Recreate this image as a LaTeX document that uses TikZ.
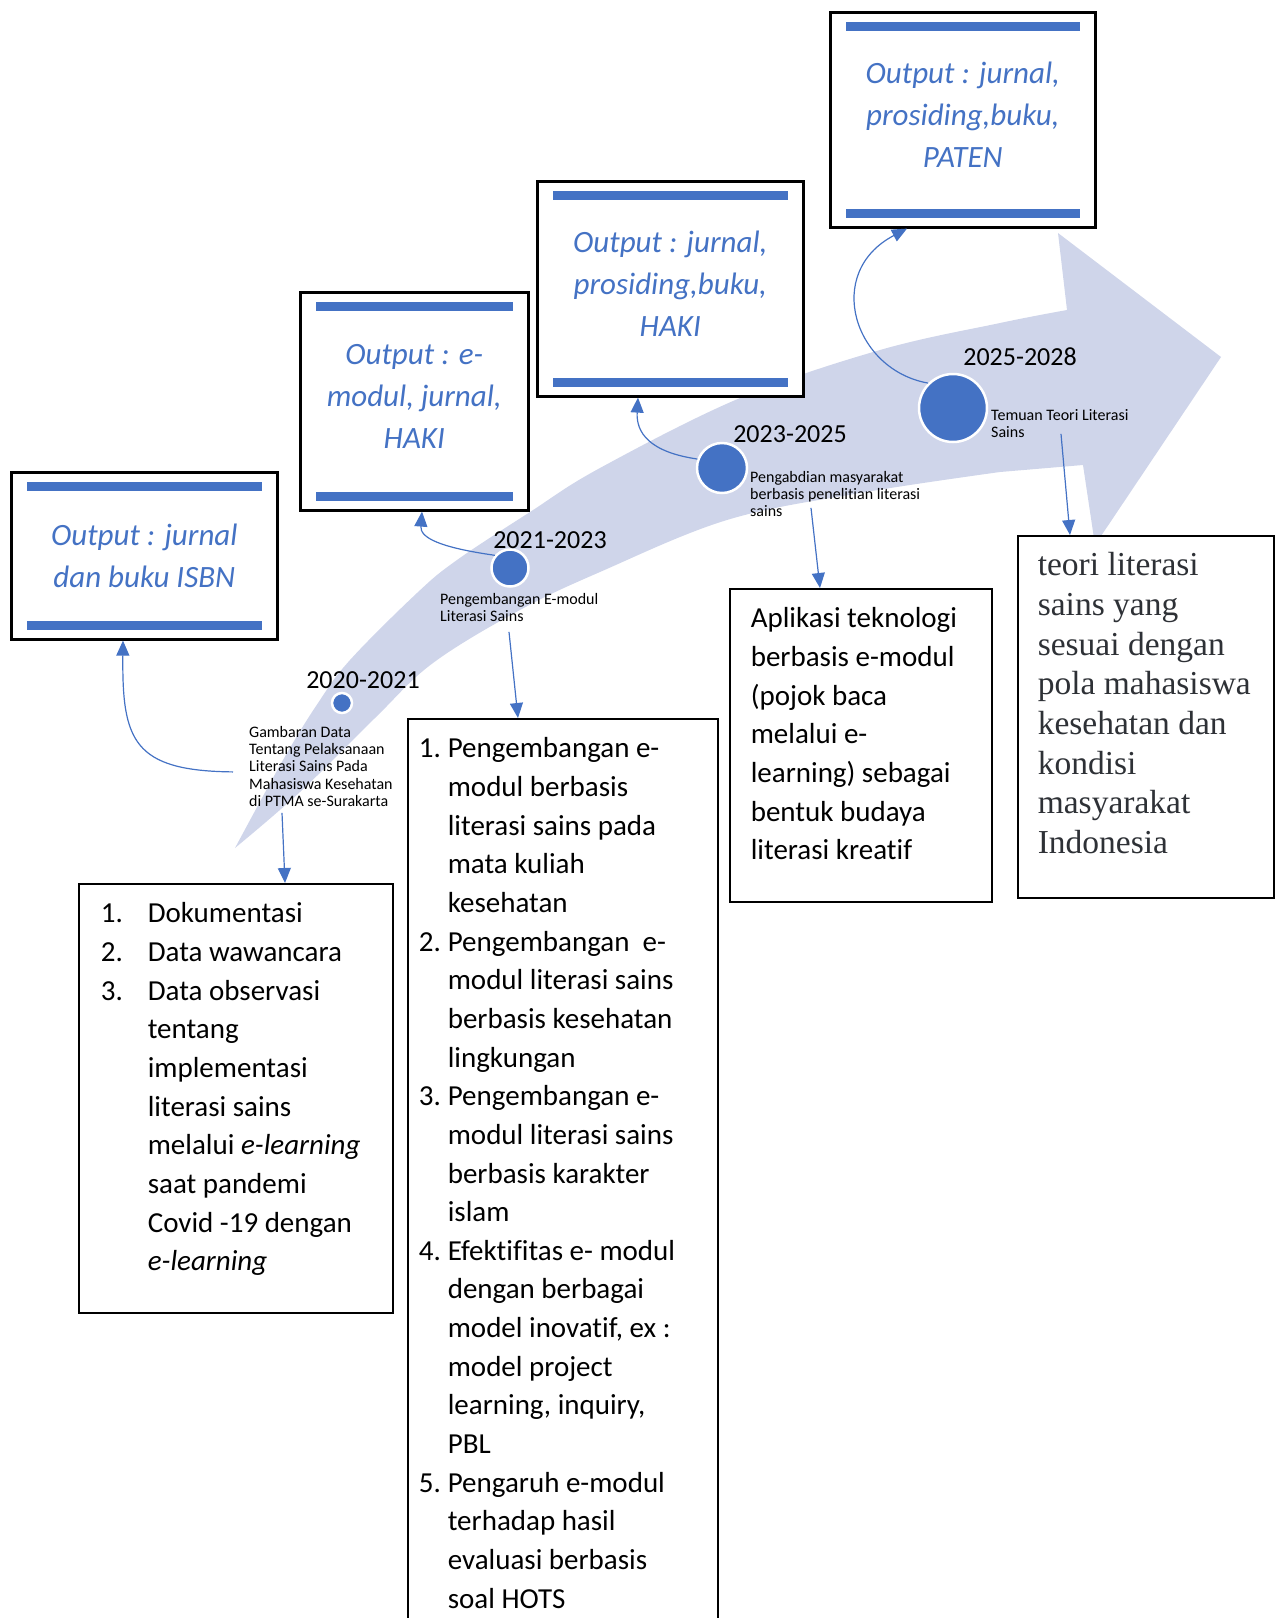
\documentclass[tikz,border=0pt]{standalone}
\usepackage{fontspec}
\setmainfont{Carlito}[Ligatures={TeX,NoCommon}]
\newfontfamily\timesfont{Liberation Serif}
\usetikzlibrary{arrows.meta}
\definecolor{myblue}{HTML}{4472C4}
\definecolor{bandblue}{HTML}{CFD5EA}
\definecolor{txtgray}{HTML}{2E3136}
\newcommand{\numitem}[3]{\par\noindent\hangindent=#1\hangafter=1\strut\makebox[#1][l]{#2}#3\par}
\newcommand{\boxtext}[4]{\hspace*{#1}\begin{minipage}[t][#2][t]{#3}\raggedright #4\end{minipage}}
\newcommand{\lift}{\rule[-10pt]{0pt}{0pt}}
\begin{document}
\begin{tikzpicture}[x=1pt,y=-1pt,
	outbox/.style={draw,line width=2.6pt,fill=white,anchor=north west,inner sep=0pt,
		align=center,text=myblue,font=\fontsize{31}{42}\selectfont\itshape},
	bar/.style={myblue,line width=9pt},
	listbox/.style={draw,line width=1.6pt,fill=white,anchor=north west,
		inner xsep=0pt,inner ysep=12pt,font=\fontsize{29}{38.65}\selectfont},
	dot/.style={circle,fill=myblue,draw=white,line width=2.5pt,inner sep=0pt},
	yr/.style={anchor=base,font=\fontsize{26}{30}\selectfont},
	lab/.style={anchor=north west,inner sep=0pt,align=left,font=\fontsize{16}{17.3}\selectfont},
	link/.style={myblue,line width=1.2pt,-{Triangle[length=15pt,width=13pt]}}]
	\useasboundingbox (0,0) rectangle (1275,1618);
	% big curved arrow
	\fill[bandblue] plot[smooth,tension=.6] coordinates {(235,848) (283,760) (318,703)
		(350,660) (417,593) (457,560) (530,512) (600,468) (740,398) (880,350) (1000,323) (1067,310)}
	-- (1058,233) -- (1221,357) -- (1095,545) -- (1083,465)
	-- plot[smooth,tension=.6] coordinates {(1000,472) (860,493) (727,520) (600,572)
		(520,610) (433,663) (375,718) (300,792) (235,848)} -- cycle;
	% milestones
	\node[dot,minimum size=20pt] (c1) at (342,703) {};
	\node[dot,minimum size=37pt] (c2) at (510,568) {};
	\node[dot,minimum size=50pt] (c3) at (722,468) {};
	\node[dot,minimum size=68pt] (c4) at (953,408) {};
	\node[yr] (y1) at (363,688) {2020-2021};
	\node[yr] (y2) at (550,548) {2021-2023};
	\node[yr] (y3) at (790,442) {2023-2025};
	\node[yr] (y4) at (1020,365) {2025-2028};
	\node[lab] (lgam) at (249,724.9) {\strut Gambaran Data\\Tentang Pelaksanaan\\Literasi Sains Pada\\Mahasiswa Kesehatan\\di PTMA se-Surakarta};
	\node[lab] (lpeng) at (440,591.9) {\strut Pengembangan E-modul\\Literasi Sains};
	\node[lab] (lpgb) at (750,469.9) {\strut Pengabdian masyarakat\\berbasis penelitian literasi\\sains};
	\node[lab] (ltem) at (991,407.9) {\strut Temuan Teori Literasi\\Sains};
	% outputs
	\node[outbox,minimum width=266pt,minimum height=167pt] (o1) at (10,471) {Output : jurnal\\dan buku ISBN};
	\node[outbox,minimum width=228pt,minimum height=218pt] (o2) at (299,291) {Output : e-\\modul, jurnal,\\HAKI\lift};
	\node[outbox,minimum width=266pt,minimum height=215pt] (o3) at (536,180) {Output : jurnal,\\prosiding,buku,\\HAKI\lift};
	\node[outbox,minimum width=265pt,minimum height=215pt] (o4) at (829,11) {Output : jurnal,\\prosiding,buku,\\PATEN\lift};
	\foreach \o in {o1,o2,o3,o4}{
		\draw[bar] ([xshift=17pt,yshift=-15.5pt]\o.north west) -- ([xshift=-17pt,yshift=-15.5pt]\o.north east);
		\draw[bar] ([xshift=17pt,yshift=15.5pt]\o.south west) -- ([xshift=-17pt,yshift=15.5pt]\o.south east);
	}
	% details
	\node[listbox] (boxA) at (78,883) {\boxtext{22pt}{405pt}{292pt}{%
			\numitem{47pt}{1.}{Dokumentasi}
			\numitem{47pt}{2.}{Data wawancara}
			\numitem{47pt}{3.}{Data observasi\newline tentang\newline implementasi\newline literasi sains\newline melalui \textit{e-learning}\newline saat pandemi\newline Covid -19 dengan\newline \textit{e-learning}}}};
	\node[listbox] (boxB) at (407,718) {\boxtext{11pt}{908pt}{299pt}{%
			\numitem{29pt}{1.}{Pengembangan e-\newline modul berbasis\newline literasi sains pada\newline mata kuliah\newline kesehatan}
			\numitem{29pt}{2.}{Pengembangan\ \ e-\newline modul literasi sains\newline berbasis kesehatan\newline lingkungan}
			\numitem{29pt}{3.}{Pengembangan e-\newline modul literasi sains\newline berbasis karakter\newline islam}
			\numitem{29pt}{4.}{Efektifitas e- modul\newline dengan berbagai\newline model inovatif, ex :\newline model project\newline learning, inquiry,\newline PBL}
			\numitem{29pt}{5.}{Pengaruh e-modul\newline terhadap hasil\newline evaluasi berbasis\newline soal HOTS}}};
	\node[listbox] (boxC) at (729,588) {\boxtext{21pt}{289pt}{241pt}{\strut Aplikasi teknologi\\berbasis e-modul\\(pojok baca\\melalui e-\\learning) sebagai\\bentuk budaya\\literasi kreatif}};
	\node[listbox,inner ysep=12.2pt,text=txtgray,font=\timesfont\fontsize{33.5}{39.7}\selectfont] (boxD) at (1017,535)
	{\boxtext{20pt}{338pt}{236pt}{\strut teori literasi\\sains yang\\sesuai dengan\\pola mahasiswa\\kesehatan dan\\kondisi\\masyarakat\\Indonesia}};
	% connectors
	\draw[link] ([xshift=-16pt,yshift=-47pt]lgam.north west) .. controls +(-100,-1) and +(-1,100) .. ([xshift=113pt]o1.south west);
	\draw[link] ([xshift=33pt,yshift=-88pt]lgam.north west) -- ([xshift=207pt]boxA.north west);
	\draw[link] (c2.140) .. controls +(-56,-8) and +(-2,26) .. ([xshift=123pt]o2.south west);
	\draw[link] ([xshift=69pt,yshift=-40pt]lpeng.north west) -- ([xshift=111pt]boxB.north west);
	\draw[link] (c3.160) .. controls +(-48,-7) and +(-2,35) .. ([xshift=102pt]o3.south west);
	\draw[link] ([xshift=61pt,yshift=-38pt]lpgb.north west) -- ([xshift=91pt]boxC.north west);
	\draw[link] (c4.135) .. controls +(-74,-13) and +(-84,44) .. ([xshift=78pt]o4.south west);
	\draw[link] ([xshift=70pt,yshift=-26pt]ltem.north west) -- ([xshift=53pt]boxD.north west);
\end{tikzpicture}
\end{document}
